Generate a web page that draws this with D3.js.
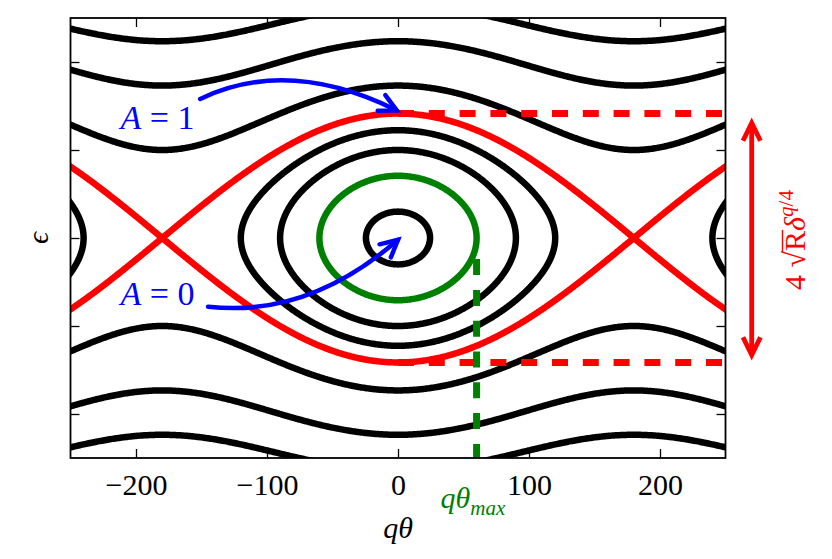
<!DOCTYPE html>
<html>
<head>
<meta charset="utf-8">
<script src="https://cdn.jsdelivr.net/npm/d3@7"></script>
<style>
  html, body { margin: 0; padding: 0; background: #fff; }
  svg { display: block; font-family: "Liberation Serif", "DejaVu Serif", serif; }
</style>
</head>
<body>
<svg id="chart" width="832" height="559"></svg>
<script>
'use strict';

// pendulum phase portrait, H = eps^2/2 - K cos(q theta)
var pendulumK = 0.5;
var orbitLevels = [-0.455, 0, 0.25, 1, 2, 3];
var maxOrbitLevel = -0.25;     // green orbit, turns at q theta_max
var separatrixLevel = 0.5;     // red orbit through the X points
var thetaMax = 60;
var xTicks = [-200, -100, 0, 100, 200];
var yTicks = [-2, -1, 0, 1, 2];
var xExtent = [-250, 250];
var yExtent = [-2.5, 2.5];
// annotation arrows (q theta, eps)
var arrowA1 = {from: [-151, 1.58], ctrl: [-84, 2.06], to: [-1, 1.45]};
var arrowA0 = {from: [-145, -0.78], ctrl: [-69, -0.91], to: [0, -0.02]};

var margin = {top: 18, right: 106.5, bottom: 101, left: 70.5};
var svgWidth = 832, svgHeight = 559;
var graphWidth = svgWidth - margin.left - margin.right;
var graphHeight = svgHeight - margin.top - margin.bottom;

var svg = d3.select('#chart');
var g = svg.append('g')
  .attr('transform', 'translate(' + margin.left + ',' + margin.top + ')');

var xRange = d3.scaleLinear().domain(xExtent).range([0, graphWidth]);
var yRange = d3.scaleLinear().domain(yExtent).range([graphHeight, 0]);

g.append('clipPath').attr('id', 'plot-clip')
  .append('rect').attr('width', graphWidth).attr('height', graphHeight);

var plot = g.append('g').attr('clip-path', 'url(#plot-clip)');

// hamiltonian on a grid a bit wider than the axes, so border edges are clipped
var gx0 = -300, gdx = 1, gy0 = 3.005, gdy = 0.01;
var nx = 601, ny = 602;
var values = new Float64Array(nx * ny);
for (var j = 0; j < ny; j++) {
  var eps = gy0 - j * gdy;
  for (var i = 0; i < nx; i++) {
    var phi = (gx0 + i * gdx) * Math.PI / 180;
    values[j * nx + i] = eps * eps / 2 - pendulumK * Math.cos(phi);
  }
}

var contourGen = d3.contours().size([nx, ny]);
var toScreen = d3.geoTransform({
  point: function(px, py) {
    this.stream.point(xRange(gx0 + (px - 0.5) * gdx), yRange(gy0 - (py - 0.5) * gdy));
  }
});
var contourPath = d3.geoPath(toScreen);

function drawLevel(level, color) {
  plot.append('path')
    .datum(contourGen.contour(values, level))
    .attr('d', contourPath)
    .attr('fill', 'none')
    .attr('stroke', color)
    .attr('stroke-width', 6.5)
    .attr('stroke-linejoin', 'round');
}

orbitLevels.forEach(function(l) { drawLevel(l, '#000'); });
drawLevel(maxOrbitLevel, '#008000');
drawLevel(separatrixLevel, '#ff0000');

// separatrix half width
var sepHalf = 2 * Math.sqrt(pendulumK);

[sepHalf, -sepHalf].forEach(function(e) {
  plot.append('line')
    .attr('x1', xRange(0)).attr('x2', xRange(xExtent[1]))
    .attr('y1', yRange(e)).attr('y2', yRange(e))
    .attr('stroke', '#ff0000')
    .attr('stroke-width', 7)
    .attr('stroke-dasharray', '16 14.8');
});

plot.append('line')
  .attr('x1', xRange(thetaMax)).attr('x2', xRange(thetaMax))
  .attr('y1', yRange(-0.24)).attr('y2', yRange(yExtent[0]))
  .attr('stroke', '#008000')
  .attr('stroke-width', 7)
  .attr('stroke-dasharray', '16 14.8');

// axes, ticks point inwards on all four sides
var tick = 9;
var fmt = function(d) { return d < 0 ? '\u2212' + Math.abs(d) : d; };

var xAxis = g.append('g')
  .attr('transform', 'translate(0,' + graphHeight + ')')
  .call(d3.axisBottom(xRange).tickValues(xTicks).tickSizeInner(-tick).tickSizeOuter(0).tickFormat(fmt));

g.append('g')
  .call(d3.axisTop(xRange).tickValues(xTicks).tickSizeInner(-tick).tickSizeOuter(0).tickFormat(''));
g.append('g')
  .call(d3.axisLeft(yRange).tickValues(yTicks).tickSizeInner(-tick).tickSizeOuter(0).tickFormat(''));
g.append('g')
  .attr('transform', 'translate(' + graphWidth + ',0)')
  .call(d3.axisRight(yRange).tickValues(yTicks).tickSizeInner(-tick).tickSizeOuter(0).tickFormat(''));

// d3 puts a sans-serif font on every axis group, drop it
g.selectAll('.domain').remove();
g.selectAll('g').attr('font-family', null).attr('font-size', null);
g.selectAll('.tick line').attr('stroke', '#000').attr('stroke-width', 1.3);
xAxis.selectAll('text')
  .attr('dy', null).attr('y', 37)
  .attr('font-size', 30).attr('fill', '#000');

g.append('rect')
  .attr('width', graphWidth).attr('height', graphHeight)
  .attr('fill', 'none').attr('stroke', '#000').attr('stroke-width', 1.8);

// axis labels
g.append('text')
  .attr('x', xRange(0)).attr('y', 520)
  .attr('text-anchor', 'middle')
  .attr('font-size', 30).attr('font-style', 'italic')
  .text('q\u03b8');

g.append('text')
  .attr('transform', 'translate(' + (-22.5) + ',' + yRange(0) + ') rotate(-90)')
  .attr('text-anchor', 'middle')
  .attr('font-size', 30).attr('font-style', 'italic')
  .text('\u03f5');

// q theta_max label
var tm = g.append('text')
  .attr('x', xRange(thetaMax) - 36).attr('y', 490)
  .attr('fill', '#008000')
  .attr('font-size', 30).attr('font-style', 'italic');
tm.append('tspan').text('q\u03b8');
tm.append('tspan').attr('font-size', 21).attr('dy', 7).text('max');

// 4 sqrt(R) delta^(q/4) arrow
var ax = xRange(270);
var ay1 = yRange(sepHalf) + 9.5, ay2 = yRange(-sepHalf) - 7.5;
var red = g.append('g').attr('stroke', '#ff0000').attr('stroke-width', 4.8).attr('fill', 'none');
red.append('line').attr('x1', ax).attr('x2', ax).attr('y1', ay1 + 2).attr('y2', ay2 - 2);
red.append('path').attr('d', 'M' + (ax - 8.7) + ',' + (ay1 + 17.7) + 'L' + ax + ',' + ay1 + 'L' + (ax + 8.7) + ',' + (ay1 + 17.7));
red.append('path').attr('d', 'M' + (ax - 8.7) + ',' + (ay2 - 17.7) + 'L' + ax + ',' + ay2 + 'L' + (ax + 8.7) + ',' + (ay2 - 17.7));

var rl = g.append('g')
  .attr('transform', 'translate(' + (805 - margin.left) + ',' + (240 - margin.top) + ') rotate(-90)');
var rt = rl.append('text')
  .attr('text-anchor', 'middle')
  .attr('fill', '#ff0000')
  .attr('font-size', 30);
rt.append('tspan').text('4 \u221a');
rt.append('tspan').text('R');
rt.append('tspan').attr('font-style', 'italic').text('\u03b4');
rt.append('tspan').attr('font-size', 21).attr('dy', -12).attr('font-style', 'italic').text('q');
rt.append('tspan').attr('font-size', 21).text('/4');

// bar over R, from the end of the radical to the end of R
var rNode = rt.node();
var barX1 = rNode.getEndPositionOfChar(2).x - 1;
var barX2 = rNode.getEndPositionOfChar(3).x + 1;
rl.append('line')
  .attr('x1', barX1).attr('x2', barX2)
  .attr('y1', -22.5).attr('y2', -22.5)
  .attr('stroke', '#ff0000').attr('stroke-width', 1.4);

// A = 1 / A = 0 annotations
function curvedArrow(a) {
  var s = [xRange(a.from[0]), yRange(a.from[1])];
  var c = [xRange(a.ctrl[0]), yRange(a.ctrl[1])];
  var e = [xRange(a.to[0]), yRange(a.to[1])];
  var dx = e[0] - c[0], dy = e[1] - c[1];
  var len = Math.sqrt(dx * dx + dy * dy);
  dx /= len; dy /= len;
  var hl = 19, ang = 27 * Math.PI / 180;
  var h1 = [e[0] - hl * (dx * Math.cos(ang) - dy * Math.sin(ang)), e[1] - hl * (dx * Math.sin(ang) + dy * Math.cos(ang))];
  var h2 = [e[0] - hl * (dx * Math.cos(-ang) - dy * Math.sin(-ang)), e[1] - hl * (dx * Math.sin(-ang) + dy * Math.cos(-ang))];
  var blue = g.append('g').attr('stroke', '#0000ff').attr('stroke-width', 4.5).attr('fill', 'none')
    .attr('stroke-linecap', 'round');
  blue.append('path').attr('d', 'M' + s + 'Q' + c + ' ' + e);
  blue.append('path').attr('d', 'M' + h1 + 'L' + e + 'L' + h2).attr('stroke-linejoin', 'miter');
}
curvedArrow(arrowA1);
curvedArrow(arrowA0);

function aLabel(txt, yPos) {
  var t = g.append('text')
    .attr('x', 120.5 - margin.left).attr('y', yPos - margin.top)
    .attr('fill', '#0000ff')
    .attr('font-size', 34);
  t.append('tspan').attr('font-style', 'italic').text('A');
  t.append('tspan').text(' = ' + txt);
}
aLabel('1', 129);
aLabel('0', 305);
</script>
</body>
</html>
